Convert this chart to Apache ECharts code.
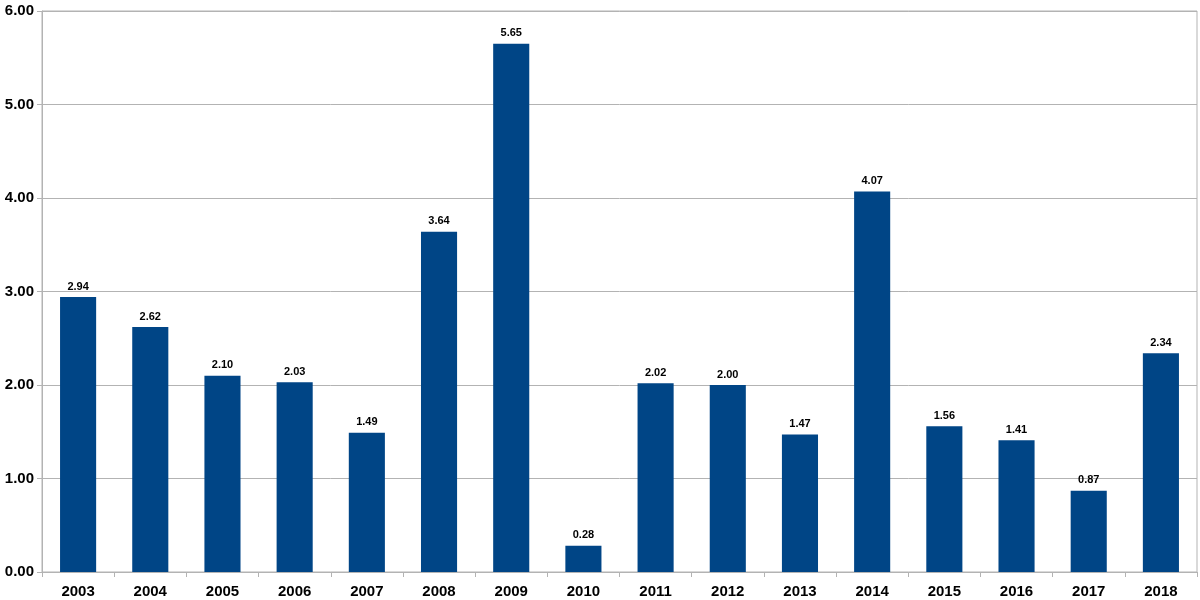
<!DOCTYPE html>
<html><head><meta charset="utf-8">
<script src="https://cdn.jsdelivr.net/npm/echarts@6/dist/echarts.min.js"></script>
<style>html,body{margin:0;padding:0;background:#fff}#c{width:1200px;height:600px}</style>
</head><body><div id="c"></div>
<script>
const categories = ['2003','2004','2005','2006','2007','2008','2009','2010','2011','2012','2013','2014','2015','2016','2017','2018'];
const values = [2.94,2.62,2.10,2.03,1.49,3.64,5.65,0.28,2.02,2.00,1.47,4.07,1.56,1.41,0.87,2.34];
const chart = echarts.init(document.getElementById('c'));
const font = "'Liberation Sans', Arial, sans-serif";
chart.setOption({
  animation:false,
  grid:{left:42,right:3,top:11,bottom:28,show:true,borderColor:'#b3b3b3',borderWidth:1,backgroundColor:'transparent'},
  xAxis:{type:'category',data:categories,boundaryGap:true,
    axisLine:{lineStyle:{color:'#b3b3b3'}},
    axisTick:{show:true,length:5,lineStyle:{color:'#b3b3b3'},alignWithLabel:false},
    axisLabel:{color:'#000',fontWeight:'bold',fontSize:15,fontFamily:font,margin:12}},
  yAxis:{type:'value',min:0,max:6,interval:1,
    axisLine:{show:true,lineStyle:{color:'#b3b3b3'}},
    axisTick:{show:true,length:5,lineStyle:{color:'#b3b3b3'}},
    splitLine:{lineStyle:{color:'#b3b3b3'}},
    axisLabel:{color:'#000',fontWeight:'bold',fontSize:15,fontFamily:font,margin:8,formatter:v=>v.toFixed(2)}},
  series:[{type:'bar',data:values,barWidth:'50%',itemStyle:{color:'#004586'},
    label:{show:true,position:'top',distance:5,color:'#000',fontWeight:'bold',fontSize:11,fontFamily:font,formatter:p=>p.value.toFixed(2)}}]
});
</script></body></html>
